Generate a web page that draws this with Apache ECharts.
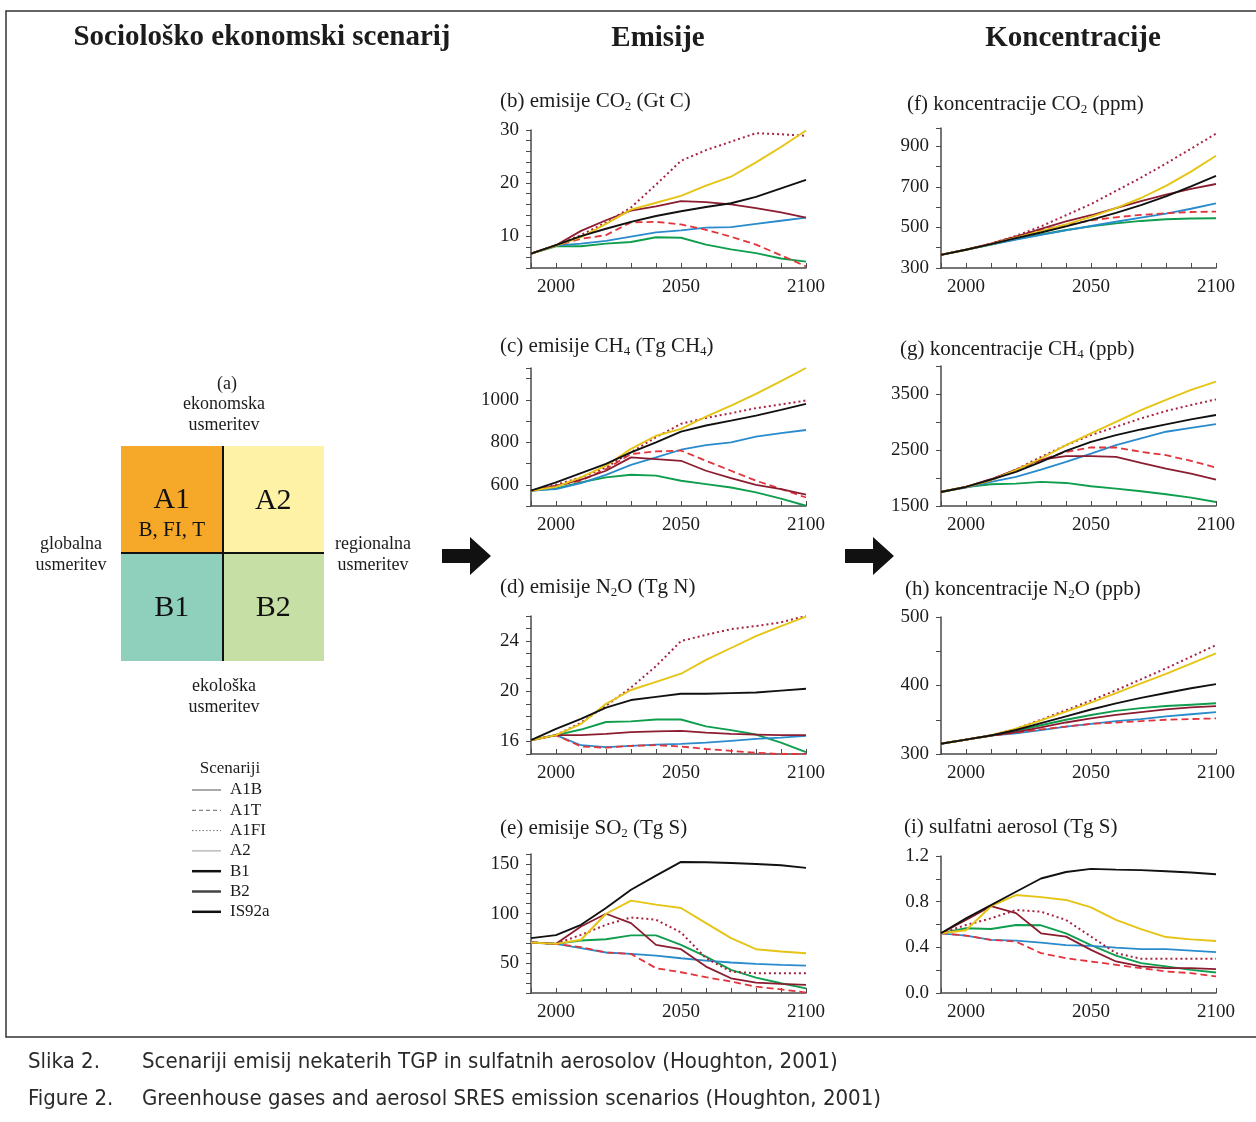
<!DOCTYPE html>
<html><head><meta charset="utf-8">
<script src="https://cdn.jsdelivr.net/npm/echarts@6/dist/echarts.min.js"></script>
<style>html,body{margin:0;padding:0;background:#fff}#c{width:1256px;height:1122px}</style>
</head><body><div id="c"></div>
<script>
// ---------- DATA ----------
const years = [1990,2000,2010,2020,2030,2040,2050,2060,2070,2080,2090,2100];
const scenarios = ['A1B','A1T','A1FI','A2','B1','B2','IS92a'];
const xTickLabels = [2000,2050,2100];

// (b) emisije CO2 (Gt C)
const emCO2_A1B  = [6.7,8.3,11.0,13.0,14.8,15.6,16.6,16.4,16.0,15.3,14.5,13.5];
const emCO2_A1T  = [6.7,8.2,9.5,10.2,12.6,12.7,12.2,11.2,9.9,8.4,6.4,4.3];
const emCO2_A1FI = [6.7,8.3,10.2,12.6,15.4,19.7,24.2,26.2,27.8,29.4,29.2,28.9];
const emCO2_A2   = [6.7,8.2,9.8,12.3,15.0,16.3,17.6,19.5,21.2,23.9,26.8,29.9];
const emCO2_B1   = [6.7,8.1,8.1,8.6,8.9,9.8,9.7,8.4,7.5,6.8,5.8,5.2];
const emCO2_B2   = [6.7,8.2,8.6,9.1,9.9,10.7,11.1,11.6,11.7,12.3,12.9,13.5];
const emCO2_IS92a= [6.7,8.3,10.0,11.4,12.7,13.8,14.7,15.5,16.2,17.4,19.0,20.6];
const yLabels_b = [10,20,30];

// (c) emisije CH4 (Tg CH4)
const emCH4_A1B  = [572,595,624,666,729,721,713,666,631,600,580,553];
const emCH4_A1T  = [572,595,619,674,745,757,761,713,666,619,580,540];
const emCH4_A1FI = [572,600,635,682,753,824,887,915,937,961,978,997];
const emCH4_A2   = [572,590,635,690,769,831,863,921,973,1028,1088,1150];
const emCH4_B1   = [572,583,611,635,647,643,619,603,587,564,535,501];
const emCH4_B2   = [572,580,608,647,694,729,765,787,800,827,843,858];
const emCH4_IS92a= [572,611,655,698,753,800,850,879,902,926,953,981];
const yLabels_c = [600,800,1000];

// (d) emisije N2O (Tg N)
const emN2O_A1B  = [16.1,16.5,16.5,16.6,16.75,16.8,16.85,16.7,16.6,16.55,16.5,16.5];
const emN2O_A1T  = [16.1,16.5,15.6,15.5,15.65,15.7,15.6,15.4,15.25,15.1,15.0,15.0];
const emN2O_A1FI = [16.1,16.5,17.5,18.85,20.3,22.0,24.0,24.5,24.95,25.2,25.5,26.0];
const emN2O_A2   = [16.1,16.5,17.4,19.0,20.1,20.75,21.4,22.5,23.45,24.4,25.2,25.95];
const emN2O_B1   = [16.1,16.5,16.95,17.55,17.6,17.75,17.75,17.2,16.9,16.55,15.9,15.15];
const emN2O_B2   = [16.1,16.5,15.7,15.55,15.65,15.75,15.8,15.9,16.05,16.2,16.3,16.45];
const emN2O_IS92a= [16.1,17.0,17.8,18.7,19.3,19.55,19.8,19.8,19.85,19.9,20.05,20.2];
const yLabels_d = [16,20,24];

// (e) emisije SO2 (Tg S)
const emSO2_A1B  = [70.9,69.5,87,99.8,90.4,68.5,64.1,46.6,34.8,30.5,29.1,28.1];
const emSO2_A1T  = [70.9,69.5,66.2,60.8,59.4,45,40.9,35.9,31.5,26.4,23.7,20.4];
const emSO2_A1FI = [70.9,69.5,78.6,88.7,96.1,93.8,81,55,41.6,39.9,39.9,39.9];
const emSO2_A2   = [70.9,69.5,73.6,99.8,113,109,105.6,90.4,75.3,64.1,61.8,60.1];
const emSO2_B1   = [70.9,69.5,72.9,74.2,78,78,68.5,56.7,43.3,35.5,29.8,24.7];
const emSO2_B2   = [70.9,69.5,65.2,60.8,59.4,57.7,55,52.7,50.7,49.3,48.3,47.6];
const emSO2_IS92a= [75.3,78.3,88.7,105.6,124,138.2,152,151.7,151,150,148.6,146];
const yLabels_e = [50,100,150];

// (f) koncentracije CO2 (ppm)
const coCO2_A1B  = [365,390,420,455,493,530,560,595,630,662,690,714];
const coCO2_A1T  = [365,390,420,455,487,512,535,550,562,570,576,578];
const coCO2_A1FI = [365,390,420,458,505,560,615,680,745,815,888,962];
const coCO2_A2   = [365,390,418,450,482,515,552,595,645,705,775,853];
const coCO2_B1   = [365,390,415,442,465,487,505,520,532,540,544,545];
const coCO2_B2   = [365,390,415,440,463,485,507,528,548,568,592,619];
const coCO2_IS92a= [365,390,418,447,475,505,537,572,610,653,702,754];
const yLabels_f = [300,500,700,900];

// (g) koncentracije CH4 (ppb)
const coCH4_A1B  = [1751,1840,1978,2150,2330,2390,2390,2378,2270,2169,2079,1972];
const coCH4_A1T  = [1751,1840,1978,2139,2318,2467,2545,2545,2467,2407,2306,2187];
const coCH4_A1FI = [1751,1840,1960,2150,2377,2587,2766,2915,3064,3196,3303,3404];
const coCH4_A2   = [1751,1840,1960,2139,2348,2587,2796,3004,3213,3393,3572,3721];
const coCH4_B1   = [1751,1840,1888,1900,1930,1912,1852,1810,1763,1709,1649,1572];
const coCH4_B2   = [1751,1830,1930,2019,2151,2288,2437,2587,2706,2826,2897,2963];
const coCH4_IS92a= [1751,1840,1972,2109,2288,2485,2646,2766,2867,2957,3046,3124];
const yLabels_g = [1500,2500,3500];

// (h) koncentracije N2O (ppb)
const coN2O_A1B  = [315,321,327,332,339,346,352,357,361,365,368,370];
const coN2O_A1T  = [315,321,327,331,336,340,344,346,348,350,351,352];
const coN2O_A1FI = [315,321,327,337,350,364,378,393,409,425,442,459];
const coN2O_A2   = [315,321,327,337,349,362,375,389,403,417,432,447];
const coN2O_B1   = [315,321,327,334,342,350,357,363,367,370,372,374];
const coN2O_B2   = [315,321,327,330,335,340,344,348,351,355,358,361];
const coN2O_IS92a= [315,321,327,335,345,355,365,374,382,389,396,402];
const yLabels_h = [300,400,500];

// (i) sulfatni aerosol (Tg S)
const aer_A1B  = [0.523,0.64,0.76,0.70,0.523,0.494,0.378,0.276,0.233,0.218,0.218,0.21];
const aer_A1T  = [0.523,0.503,0.465,0.45,0.349,0.305,0.276,0.247,0.218,0.189,0.174,0.145];
const aer_A1FI = [0.523,0.596,0.654,0.727,0.712,0.64,0.494,0.349,0.30,0.30,0.30,0.30];
const aer_A2   = [0.523,0.55,0.76,0.858,0.84,0.815,0.75,0.64,0.56,0.49,0.47,0.455];
const aer_B1   = [0.523,0.567,0.561,0.596,0.593,0.523,0.42,0.328,0.262,0.233,0.203,0.18];
const aer_B2   = [0.523,0.503,0.465,0.459,0.442,0.42,0.413,0.398,0.384,0.384,0.372,0.358];
const aer_IS92a= [0.523,0.654,0.77,0.887,1.003,1.06,1.087,1.081,1.076,1.067,1.055,1.04];
const yLabels_i = [0,0.4,0.8,1.2];

// (a) scenario quadrant
const quadNames = ['A1','A2','B1','B2'];
const quadSub = ['B, FI, T','','',''];
const quadX = [0,1,0,1];
const quadY = [1,1,0,0];

// ---------- STYLES / LAYOUT ----------
const SERIF = '"Liberation Serif","Times New Roman",serif';
const styleOf = {
  A1B:  {color:'#8b1d30', type:'solid', width:1.8},
  A1T:  {color:'#e2343c', type:[7,4], width:1.8},
  A1FI: {color:'#a82340', type:[2,3], width:2},
  A2:   {color:'#e6c414', type:'solid', width:1.9},
  B1:   {color:'#0e9e4e', type:'solid', width:1.9},
  B2:   {color:'#2a8bcc', type:'solid', width:1.8},
  IS92a:{color:'#111111', type:'solid', width:1.9}
};
const drawOrder = ['B1','B2','A1T','A1B','A1FI','A2','IS92a'];

const panels = [
  {title:'{t|(b) emisije CO}{s|2}{t| (Gt C)}', d:{A1B:emCO2_A1B,A1T:emCO2_A1T,A1FI:emCO2_A1FI,A2:emCO2_A2,B1:emCO2_B1,B2:emCO2_B2,IS92a:emCO2_IS92a}, min:4,max:30,int:2,labels:yLabels_b, left:531,top:130,h:138, tx:500,ty:89},
  {title:'{t|(c) emisije CH}{s|4}{t| (Tg CH}{s|4}{t|)}', d:{A1B:emCH4_A1B,A1T:emCH4_A1T,A1FI:emCH4_A1FI,A2:emCH4_A2,B1:emCH4_B1,B2:emCH4_B2,IS92a:emCH4_IS92a}, min:500,max:1150,int:100,labels:yLabels_c, left:531,top:368,h:138, tx:500,ty:334},
  {title:'{t|(d) emisije N}{s|2}{t|O (Tg N)}', d:{A1B:emN2O_A1B,A1T:emN2O_A1T,A1FI:emN2O_A1FI,A2:emN2O_A2,B1:emN2O_B1,B2:emN2O_B2,IS92a:emN2O_IS92a}, min:15,max:26,int:1,labels:yLabels_d, left:531,top:616,h:138, tx:500,ty:575},
  {title:'{t|(e) emisije SO}{s|2}{t| (Tg S)}', d:{A1B:emSO2_A1B,A1T:emSO2_A1T,A1FI:emSO2_A1FI,A2:emSO2_A2,B1:emSO2_B1,B2:emSO2_B2,IS92a:emSO2_IS92a}, min:20,max:160,int:10,labels:yLabels_e, left:531,top:854,h:139, tx:500,ty:816},
  {title:'{t|(f) koncentracije CO}{s|2}{t| (ppm)}', d:{A1B:coCO2_A1B,A1T:coCO2_A1T,A1FI:coCO2_A1FI,A2:coCO2_A2,B1:coCO2_B1,B2:coCO2_B2,IS92a:coCO2_IS92a}, min:300,max:990,int:100,labels:yLabels_f, left:941,top:128,h:140, tx:907,ty:92},
  {title:'{t|(g) koncentracije CH}{s|4}{t| (ppb)}', d:{A1B:coCH4_A1B,A1T:coCH4_A1T,A1FI:coCH4_A1FI,A2:coCH4_A2,B1:coCH4_B1,B2:coCH4_B2,IS92a:coCH4_IS92a}, min:1500,max:4000,int:500,labels:yLabels_g, left:941,top:366,h:140, tx:900,ty:337},
  {title:'{t|(h) koncentracije N}{s|2}{t|O (ppb)}', d:{A1B:coN2O_A1B,A1T:coN2O_A1T,A1FI:coN2O_A1FI,A2:coN2O_A2,B1:coN2O_B1,B2:coN2O_B2,IS92a:coN2O_IS92a}, min:300,max:500,int:50,labels:yLabels_h, left:941,top:617,h:137, tx:905,ty:577},
  {title:'{t|(i) sulfatni aerosol (Tg S)}', d:{A1B:aer_A1B,A1T:aer_A1T,A1FI:aer_A1FI,A2:aer_A2,B1:aer_B1,B2:aer_B2,IS92a:aer_IS92a}, min:0,max:1.2,int:0.2,labels:yLabels_i, dec:1, left:941,top:856,h:137, tx:904,ty:815}
];

const grid=[], xAxis=[], yAxis=[], series=[], title=[];
const axisCol = '#4a4a4a', txtCol = '#1c1c1c';
panels.forEach((p,i)=>{
  grid.push({left:p.left, top:p.top, width:275, height:p.h, containLabel:false});
  xAxis.push({type:'value', gridIndex:i, min:1990, max:2100, interval:10,
    axisLine:{lineStyle:{color:axisCol,width:1.5}},
    axisTick:{inside:true,length:5,lineStyle:{color:axisCol,width:1}},
    splitLine:{show:false},
    axisLabel:{margin:10, color:txtCol, fontFamily:SERIF, fontSize:19, showMinLabel:true, showMaxLabel:true,
      formatter:v=> xTickLabels.includes(Math.round(v)) && Math.abs(v-Math.round(v))<1e-6 ? String(Math.round(v)) : ''}});
  yAxis.push({type:'value', gridIndex:i, min:p.min, max:p.max, interval:p.int,
    axisLine:{show:true,lineStyle:{color:axisCol,width:1.5}},
    axisTick:{show:true,inside:false,length:5,lineStyle:{color:axisCol,width:1}},
    splitLine:{show:false},
    axisLabel:{margin:12, color:txtCol, fontFamily:SERIF, fontSize:19, showMinLabel:true, showMaxLabel:true,
      formatter:v=>{ const m=p.labels.find(l=>Math.abs(l-v)<1e-6); return m===undefined?'':(p.dec?m.toFixed(p.dec):String(m)); }}});
  title.push({text:p.title, left:p.tx, top:p.ty, padding:0,
    textStyle:{fontWeight:'normal', fontFamily:SERIF, fontSize:21, rich:{
      t:{fontFamily:SERIF,fontSize:21,fontWeight:'normal',color:txtCol,lineHeight:24},
      s:{fontFamily:SERIF,fontSize:13,fontWeight:'normal',color:txtCol,lineHeight:13,verticalAlign:'bottom'}}}});
  drawOrder.forEach(s=>{
    const st = styleOf[s];
    series.push({name:s, type:'line', xAxisIndex:i, yAxisIndex:i,
      data: years.map((y,k)=>[y,p.d[s][k]]),
      showSymbol:false, symbol:'none', silent:true, clip:true,
      lineStyle:{color:st.color,width:st.width,type:st.type}});
  });
});

// quadrant (a) grid
const qi = panels.length;
grid.push({left:121, top:446, width:203, height:215});
xAxis.push({type:'category', gridIndex:qi, data:['globalna','regionalna'], show:false});
yAxis.push({type:'category', gridIndex:qi, data:['ekološka','ekonomska'], show:false});
const quadColors = ['#f6a928','#fdf2a6','#8fd0bc','#c6dfa4'];
series.push({type:'custom', xAxisIndex:qi, yAxisIndex:qi, silent:true, z:1,
  data: quadNames.map((n,k)=>[quadX[k],quadY[k],k]),
  renderItem:(params,api)=>{
    const k = api.value(2);
    const c = api.coord([api.value(0),api.value(1)]);
    const sz = api.size([1,1]);
    const children = [
      {type:'rect', shape:{x:c[0]-sz[0]/2, y:c[1]-sz[1]/2, width:sz[0], height:sz[1]}, style:{fill:quadColors[k]}},
      {type:'text', x:c[0], y:c[1]+(quadSub[k]?0:1), style:{text:quadNames[k], fill:'#111', font:'30px '+SERIF, align:'center', verticalAlign:'middle'}}
    ];
    if(quadSub[k]) children.push({type:'text', x:c[0], y:c[1]+31, style:{text:quadSub[k], fill:'#111', font:'21px '+SERIF, align:'center', verticalAlign:'middle'}});
    return {type:'group', children};
  }});

// ---------- DECORATION ----------
const g = [];
const T = (text,x,y,size,opt={})=>g.push({type:'text', x, y, z:100, silent:true, style:Object.assign({text, fill:txtCol, font:(opt.bold?'bold ':'')+size+'px '+(opt.fam||SERIF), align:opt.align||'center', verticalAlign:'middle'},opt.style||{}), scaleX:opt.sx||1});
// frame
g.push({type:'polyline', silent:true, z:100, shape:{points:[[1262,11],[6,11],[6,1037],[1262,1037]]}, style:{stroke:'#333',lineWidth:1.5,fill:null}});
// headings
T('Sociološko ekonomski scenarij',262,38,29,{bold:true});
T('Emisije',658,39,29,{bold:true});
T('Koncentracije',1073,39,29,{bold:true});
// quadrant labels
T('(a)',227,384,18); T('ekonomska',224,404,18); T('usmeritev',224,425,18);
T('globalna',71,544,18); T('usmeritev',71,565,18);
T('regionalna',373,544,18); T('usmeritev',373,565,18);
T('ekološka',224,686,18); T('usmeritev',224,707,18);
// quadrant dividers
g.push({type:'line', silent:true, z:100, shape:{x1:223,y1:446,x2:223,y2:661}, style:{stroke:'#111',lineWidth:2}});
g.push({type:'line', silent:true, z:100, shape:{x1:121,y1:553,x2:324,y2:553}, style:{stroke:'#111',lineWidth:2}});
// arrows
[0,403].forEach(dx=>g.push({type:'polygon', silent:true, z:100, shape:{points:[[442+dx,549],[470+dx,549],[470+dx,537],[491+dx,556],[470+dx,575],[470+dx,563],[442+dx,563]]}, style:{fill:'#111'}}));
// legend
T('Scenariji',230,769,17);
const legendDash = {A1B:{w:1,c:'#555',d:null}, A1T:{w:1,c:'#666',d:[4,3]}, A1FI:{w:1,c:'#777',d:[1.5,2]}, A2:{w:1,c:'#999',d:null}, B1:{w:2.5,c:'#111',d:null}, B2:{w:2.5,c:'#444',d:null}, IS92a:{w:2.5,c:'#111',d:null}};
scenarios.forEach((s,k)=>{
  const y = 790 + k*20.3;
  const L = legendDash[s];
  g.push({type:'line', silent:true, z:100, shape:{x1:192,y1:y,x2:221,y2:y}, style:{stroke:L.c,lineWidth:L.w,lineDash:L.d}});
  T(s,230,y,17,{align:'left'});
});
// caption
const CAP = '"Liberation Sans Narrow","DejaVu Sans Condensed",Roboto,sans-serif';
T('Slika 2.',28,1062,22,{align:'left',fam:CAP,style:{fill:'#2a2a2a'}});
T('Scenariji emisij nekaterih TGP in sulfatnih aerosolov (Houghton, 2001)',142,1062,22,{align:'left',fam:CAP,style:{fill:'#2a2a2a'}});
T('Figure 2.',28,1099,22,{align:'left',fam:CAP,style:{fill:'#2a2a2a'}});
T('Greenhouse gases and aerosol SRES emission scenarios (Houghton, 2001)',142,1099,22,{align:'left',fam:CAP,style:{fill:'#2a2a2a'}});

const chart = echarts.init(document.getElementById('c'), null, {renderer:'canvas'});
chart.setOption({animation:false, backgroundColor:'#fff', title, grid, xAxis, yAxis, series, graphic:g});
</script></body></html>
